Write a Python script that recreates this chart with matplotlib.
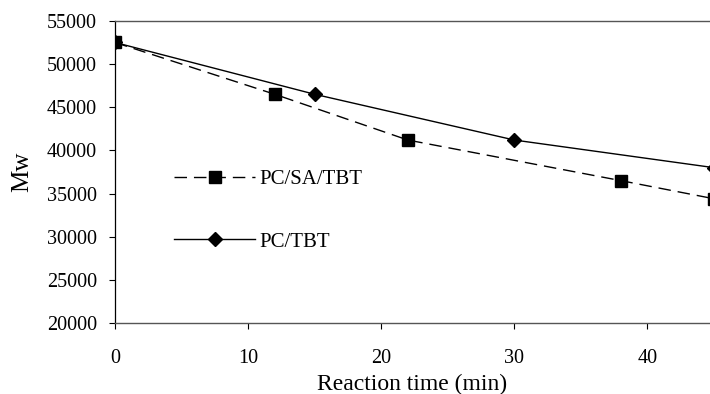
import matplotlib.pyplot as plt

# reaction time (min) and weight-average molecular weight
time_sa = [0, 12, 22, 38, 45]
mw_sa = [52500, 46500, 41200, 36500, 34400]
time_tbt = [0, 15, 30, 45]
mw_tbt = [52500, 46500, 41200, 38000]

plt.rcParams['font.family'] = ['Liberation Serif', 'DejaVu Serif']

fig = plt.figure(figsize=(7.1, 3.94), dpi=100)
ax = fig.add_axes([0.162, 0.180, 0.838, 0.767])

ax.plot(time_sa, mw_sa, color='black', lw=1.0, ls=(0, (9, 5)),
        marker='s', ms=8.5, mfc='black', label='PC/SA/TBT')
ax.plot(time_tbt, mw_tbt, color='black', lw=1.0, ls='-',
        marker='D', ms=7, mfc='black', label='PC/TBT')

ax.set_xlim(0, 44.7)
ax.set_ylim(20000, 55000)
ax.set_xticks([0, 10, 20, 30, 40])
ax.set_yticks(range(20000, 55001, 5000))
ax.tick_params(axis='both', labelsize=14.5, length=4, direction='out', width=0.8)
ax.tick_params(axis='x', pad=15)
ax.tick_params(axis='y', pad=9)

ax.spines['right'].set_visible(False)
ax.spines['top'].set_color('#555555')
ax.spines['top'].set_linewidth(1.0)
ax.spines['left'].set_linewidth(0.9)
ax.spines['bottom'].set_color('#555555')
ax.spines['bottom'].set_linewidth(1.0)

ax.set_xlabel('Reaction time (min)', fontsize=17, labelpad=4)
ax.set_ylabel('Mw', fontsize=18, labelpad=10)

ax.legend(frameon=False, loc='upper left', bbox_to_anchor=(0.085, 0.535),
          fontsize=15, handlelength=3.9, labelspacing=2.05, handletextpad=0.2,
          borderaxespad=0)

fig.savefig('out.png', dpi=100)
